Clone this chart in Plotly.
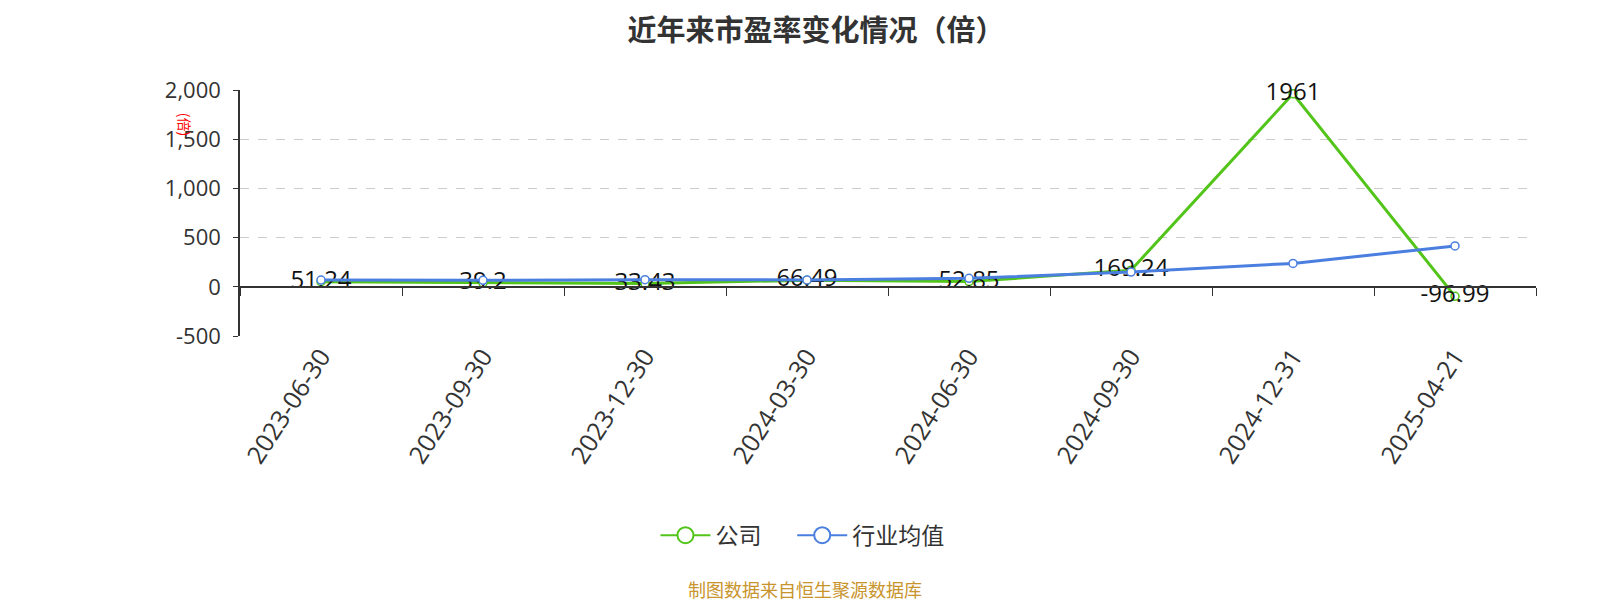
import plotly.graph_objects as go

# chart data
dates = ["2023-06-30", "2023-09-30", "2023-12-30", "2024-03-30",
         "2024-06-30", "2024-09-30", "2024-12-31", "2025-04-21"]
company_pe = [51.24, 39.2, 33.43, 66.49, 52.85, 169.24, 1961, -96.99]
industry_pe = [68, 66, 72, 70, 86, 150, 238, 415]
series_names = ["公司", "行业均值"]
y_ticks = [-500, 0, 500, 1000, 1500, 2000]

GREEN = "#52c41a"
BLUE = "#4a7fe0"
FONT = "Open Sans, Noto Sans CJK SC"
CJK = "Noto Sans CJK SC"

fig = go.Figure()

fig.add_trace(go.Scatter(
    x=dates, y=company_pe, name=series_names[0], mode="lines+markers+text",
    line=dict(color=GREEN, width=3),
    marker=dict(symbol="circle", size=8, color="white", line=dict(color=GREEN, width=1.5)),
    text=[f"{v:g}" for v in company_pe], textposition="middle center",
    textfont=dict(size=24, color="#111", family=FONT),
    cliponaxis=False, showlegend=False,
))
fig.add_trace(go.Scatter(
    x=dates, y=industry_pe, name=series_names[1], mode="lines+markers",
    line=dict(color=BLUE, width=3),
    marker=dict(symbol="circle", size=8, color="white", line=dict(color=BLUE, width=1.5)),
    cliponaxis=False, showlegend=False,
))
# legend entries with the larger symbols
for i, (name, color) in enumerate(zip(series_names, [GREEN, BLUE])):
    pad = "\u00a0" * 5 if i == 0 else ""
    fig.add_trace(go.Scatter(
        x=[None], y=[None], name=name + pad, mode="lines+markers",
        line=dict(color=color, width=2),
        marker=dict(symbol="circle", size=24, color="white", line=dict(color=color, width=2)),
    ))
# helper trace so the zero-crossing axis (ticks only) gets categories
fig.add_trace(go.Scatter(
    x=dates, y=industry_pe, xaxis="x2", mode="markers",
    marker=dict(opacity=0), showlegend=False, hoverinfo="skip",
))

fig.update_layout(
    width=1600, height=600,
    paper_bgcolor="white", plot_bgcolor="white",
    margin=dict(l=232, r=72, t=82, b=272),
    font=dict(family=FONT, color="#333"),
    title=dict(text="近年来市盈率变化情况（倍）", x=0.505, xanchor="center",
               y=0.962, yanchor="middle",
               font=dict(size=29, color="#333", family=CJK, weight="bold")),
    showlegend=True,
    legend=dict(orientation="h", x=0.434, xanchor="center", y=-0.81, yanchor="middle",
                font=dict(size=23, color="#333", family=CJK),
                itemwidth=50),
    xaxis=dict(type="category", range=[-0.5, 7.5], showline=False, ticks="",
               showgrid=False, tickangle=-57, tickfont=dict(size=25, color="#333"),
               automargin=False),
    xaxis2=dict(type="category", overlaying="x", anchor="free", position=0.2,
                range=[-0.5, 7.5], showline=True, linecolor="#333", linewidth=1.5,
                ticks="outside", tickson="boundaries", ticklen=8, tickcolor="#333",
                showticklabels=False, showgrid=False, zeroline=False),
    yaxis=dict(range=[-500, 2000], tickvals=y_ticks,
               ticktext=[f"{v:,}" for v in y_ticks],
               showline=True, linecolor="#333", linewidth=1.5,
               ticks="outside", ticklen=5, tickcolor="#333", ticklabelstandoff=8,
               showgrid=True, gridcolor="#cccccc", griddash="dash", gridwidth=1,
               zeroline=False, tickfont=dict(size=22, color="#333"), automargin=False),
    annotations=[
        dict(text="(倍)", xref="paper", yref="paper", x=-0.052, y=0.915,
             showarrow=False, textangle=90,
             font=dict(size=14, color="red", family=CJK)),
        dict(text="制图数据来自恒生聚源数据库", xref="paper", yref="paper",
             x=0.436, y=-1.03, xanchor="center", yanchor="middle", showarrow=False,
             font=dict(size=18, color="#c8942c", family=CJK)),
    ],
)

fig.write_html("out.html")
